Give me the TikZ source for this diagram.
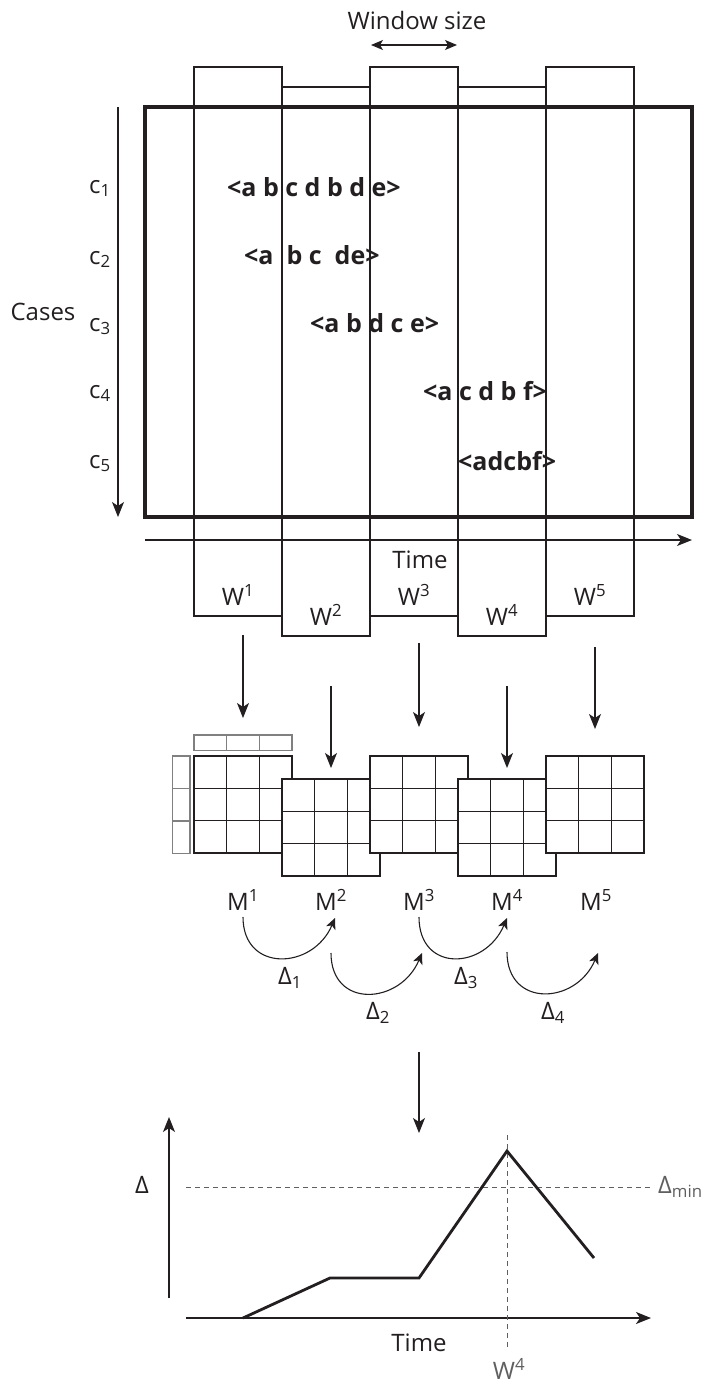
\documentclass[tikz,border=0pt]{standalone}
\usepackage{fontspec}
\setmainfont{Open Sans}
\usetikzlibrary{calc,arrows.meta,positioning}
\definecolor{ink}{HTML}{231F20}
\definecolor{dim}{HTML}{5F5F5F}

\begin{document}
\begin{tikzpicture}[x=1pt,y=-1pt,
        lbl/.style={font=\fontsize{24}{28}\selectfont, text=ink, inner sep=0pt},
        trace/.style={font=\fontsize{25}{29}\selectfont\bfseries, text=ink, inner sep=0pt, anchor=base west},
        win/.style={draw=ink, line width=1.1pt, minimum width=88pt, minimum height=549pt, anchor=north west, inner sep=0pt, outer sep=0pt},
        mat/.style={draw=ink, line width=1.2pt, fill=white, minimum width=98pt, minimum height=97pt, anchor=north west, inner sep=0pt, outer sep=0pt},
        hdr/.style={draw=gray, line width=1.4pt, anchor=north west, inner sep=0pt, outer sep=0pt},
        cell/.style={draw=ink, line width=1.2pt},
        arr/.style={draw=ink, line width=1.2pt, -{Stealth[length=15pt,width=12pt,inset=4pt]}},
        arc/.style={draw=ink, line width=1.1pt, -{Stealth[length=11pt,width=10pt,inset=3pt]}},
        guide/.style={draw=dim, line width=1pt, dash pattern=on 5pt off 4pt}]
    \useasboundingbox (0,0) rectangle (705,1385);

    % Log met de traces
    \draw[ink, line width=3.3pt] (145,107) rectangle (692,517);

    % Vensters
    \foreach \i/\x/\y in {1/194/67, 2/282/87, 3/370/67, 4/458/87, 5/546/67} {
        \node[win] (w\i) at (\x,\y) {};
        \node[lbl, above=10pt of w\i.south] (wl\i) {W\textsuperscript{\i}};
    }

    \node[lbl] (wsize) at (417,20) {Window size};
    \coordinate (wsl) at ($(w3.north west)+(1,-22)$);
    \coordinate (wsr) at ($(w3.north east)+(-1,-22)$);
    \draw[ink, line width=1.1pt, {Stealth[length=12pt,width=10pt,inset=3pt]}-{Stealth[length=12pt,width=10pt,inset=3pt]}] (wsl) -- (wsr);

    \node[trace] (t1) at (227,196) {<a b c d b d e>};
    \node[trace] (t2) at (244,264) {<a~~b c~~de>};
    \node[trace] (t3) at (310,332) {<a b d c e>};
    \node[trace] (t4) at (423,400) {<a c d b f>};
    \node[trace] (t5) at (458,470) {<adcbf>};

    % Cases
    \foreach \i/\y in {1/193, 2/264, 3/331, 4/398, 5/468}
        \node[lbl, anchor=base] (c\i) at (100,\y) {c\textsubscript{\i}};
    \node[lbl] (cases) at (43,312) {Cases};
    \coordinate (ctop) at (118,107);
    \coordinate (cbot) at (118,517);
    \draw[arr] (ctop) -- (cbot);

    % Tijd
    \coordinate (tl) at (145,540);
    \coordinate (tr) at (692,540);
    \draw[arr] (tl) -- (tr);
    \node[lbl] (time) at (420,560) {Time};

    % Pijlen naar de matrices
    \foreach \i/\x/\ya/\yb in {1/243/635/718, 2/331/686/768, 3/419/643/727, 4/507/686/768, 5/595/647/729} {
        \coordinate (a\i) at (\x,\ya);
        \coordinate (b\i) at (\x,\yb);
        \draw[arr] (a\i) -- (b\i);
    }

    % Matrices M1..M5
    \foreach \k in {0,1,2} {
        \node[hdr, minimum width=32.7pt, minimum height=15.7pt] (h\k) at (194+\k*32.67,735) {};
        \node[hdr, minimum width=17.3pt, minimum height=32.4pt] (r\k) at (172.7,756+\k*32.4) {};
    }
    \foreach \i/\x/\y in {1/194/756, 2/282/779, 3/370/756, 4/458/779, 5/546/756} {
        \node[mat] (m\i) at (\x,\y) {};
        \foreach \f in {1,2} {
            \draw[cell] ($(m\i.north west)!\f/3!(m\i.north east)$) -- ($(m\i.south west)!\f/3!(m\i.south east)$);
            \draw[cell] ($(m\i.north west)!\f/3!(m\i.south west)$) -- ($(m\i.north east)!\f/3!(m\i.south east)$);
        }
    }

    \foreach \i/\x in {1/243, 2/331, 3/419, 4/507, 5/596}
        \node[lbl] (M\i) at (\x,900) {M\textsuperscript{\i}};

    % Delta tussen opeenvolgende matrices
    \coordinate (d1s) at (243,917);  \coordinate (d1e) at (335,918);
    \coordinate (d2s) at (331,953);  \coordinate (d2e) at (422,953);
    \coordinate (d3s) at (419,917);  \coordinate (d3e) at (507,918);
    \coordinate (d4s) at (507,952);  \coordinate (d4e) at (598,953);
    \foreach \i in {1,...,4}
        \draw[arc] (d\i s) .. controls +(0,56) and +(-22,52) .. (d\i e);
    \node[lbl] (D1) at (290,978) {Δ\textsubscript{1}};
    \node[lbl] (D2) at (378,1013) {Δ\textsubscript{2}};
    \node[lbl] (D3) at (466,978) {Δ\textsubscript{3}};
    \node[lbl] (D4) at (553,1013) {Δ\textsubscript{4}};

    % Grafiek
    \coordinate (g1) at (419,1052);
    \coordinate (g2) at (419,1133);
    \draw[arr] (g1) -- (g2);

    \coordinate (yo) at (169,1298);
    \coordinate (yt) at (169,1117);
    \coordinate (xo) at (186,1318);
    \coordinate (xt) at (651,1318);
    \draw[arr] (yo) -- (yt);
    \draw[arr] (xo) -- (xt);
    \node[lbl] (delta) at (142,1185) {Δ};
    \node[lbl] (time2) at (419,1343) {Time};

    \draw[guide] (186,1187.5) -- (652,1187.5);
    \draw[guide] (507,1135) -- (507,1349);
    \node[lbl, text=dim, anchor=west] (dmin) at (658,1187) {Δ\textsubscript{min}};
    \node[lbl, text=dim] (w4b) at (509,1369) {W\textsuperscript{4}};

    \coordinate (p1) at (243,1318);
    \coordinate (p2) at (330,1278);
    \coordinate (p3) at (419,1278);
    \coordinate (p4) at (507,1151);
    \coordinate (p5) at (594,1258);
    \draw[ink, line width=2.8pt] (p1) -- (p2) -- (p3) -- (p4) -- (p5);
\end{tikzpicture}
\end{document}
